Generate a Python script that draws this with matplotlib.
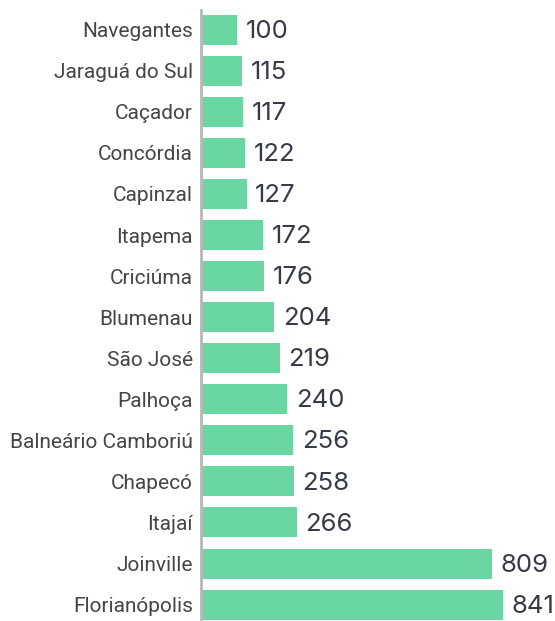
import matplotlib.pyplot as plt
import numpy as np

cities = ["Navegantes", "Jaraguá do Sul", "Caçador", "Concórdia", "Capinzal",
          "Itapema", "Criciúma", "Blumenau", "São José", "Palhoça",
          "Balneário Camboriú", "Chapecó", "Itajaí", "Joinville", "Florianópolis"]
values = [100, 115, 117, 122, 127, 172, 176, 204, 219, 240, 256, 258, 266, 809, 841]

fig = plt.figure(figsize=(5.55, 6.21), dpi=100)
ax = fig.add_axes([201 / 555, 0, 354 / 555, 611 / 621])

y = np.arange(len(cities))
ax.barh(y, values, height=0.73, color="#6ad6a2", left=0)

for yi, v in zip(y, values):
    ax.text(v + 24, yi + 0.04, str(v), va="center", ha="left", fontsize=18.5,
            color="#363b46", family="Inter")

ax.set_yticks(y)
ax.set_yticklabels(cities, fontsize=15, color="#454545", family="Roboto")
ax.tick_params(axis="y", length=0, pad=6)
ax.set_xticks([])
ax.set_xlim(0, 985)
ax.set_ylim(14.40, -0.48)

for s in ["top", "right", "bottom"]:
    ax.spines[s].set_visible(False)
ax.spines["left"].set_color("#b8b8b8")
ax.spines["left"].set_linewidth(2)

fig.savefig("out.png", dpi=100)
